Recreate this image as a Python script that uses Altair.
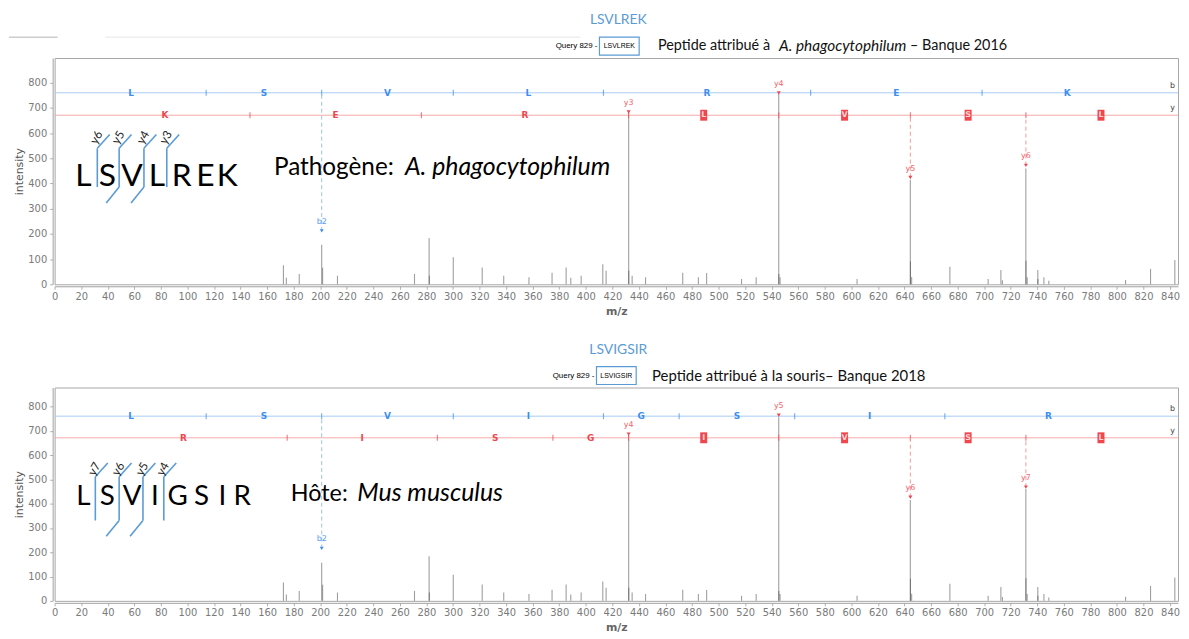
import altair as alt
import pandas as pd

# ---------------- data ----------------
peak_mz = [172.3, 174.5, 184.2, 201.1, 201.8, 213.0, 271.0, 282.0, 282.2, 300.2,
           322.0, 338.2, 357.2, 374.6, 385.2, 388.7, 396.5, 412.8, 415.3,
           432.3, 432.4, 434.9, 445.0, 473.0, 484.8, 491.0, 517.3, 528.3,
           545.3, 545.4, 546.3, 604.3, 644.4, 644.5, 645.4, 674.2, 703.0,
           712.6, 713.8, 731.4, 731.5, 732.4, 740.4, 740.5, 745.0, 748.7,
           806.5, 825.3, 843.6]
peak_int = [76, 26, 41, 157, 66, 34, 41, 184, 34, 107,
            67, 34, 28, 46, 67, 26, 34, 80, 54,
            681, 54, 34, 28, 46, 28, 45, 21, 28,
            756, 41, 28, 21, 415, 91, 29, 70, 21,
            57, 16, 460, 93, 28, 57, 21, 28, 14,
            17, 61, 96]

# top : LSVLREK
top_b_mz = [1.01, 114.09, 201.12, 300.19, 413.27, 569.37, 698.42, 826.51]
top_b_letters = ["L", "S", "V", "L", "R", "E", "K"]
top_y_mz = [19.02, 147.11, 276.16, 432.26, 545.34, 644.41, 731.44, 844.52]
top_y_letters = ["K", "E", "R", "L", "V", "S", "L"]
top_y_matched = [False, False, False, True, True, True, True]
top_ann_mz = [201.12, 432.26, 545.34, 644.41, 731.44]
top_ann_int = [212, 684, 759, 424, 472]
top_ann_label = ["b2", "y3", "y4", "y5", "y6"]
top_ann_series = ["b", "y", "y", "y", "y"]
top_ann_dashed = [True, False, False, True, True]

# bottom : LSVIGSIR
bot_b_mz = [1.01, 114.09, 201.12, 300.19, 413.27, 470.29, 557.32, 670.41, 826.51]
bot_b_letters = ["L", "S", "V", "I", "G", "S", "I", "R"]
bot_y_mz = [19.02, 175.12, 288.20, 375.24, 432.26, 545.34, 644.41, 731.44, 844.52]
bot_y_letters = ["R", "I", "S", "G", "I", "V", "S", "L"]
bot_y_matched = [False, False, False, False, True, True, True, True]
bot_ann_mz = [201.12, 432.26, 545.34, 644.41, 731.44]
bot_ann_int = [216, 686, 764, 426, 468]
bot_ann_label = ["b2", "y4", "y5", "y6", "y7"]
bot_ann_series = ["b", "y", "y", "y", "y"]
bot_ann_dashed = [True, False, False, True, True]

top_cut_labels = ["y6", "y5", "y4", "y3"]
bot_cut_labels = ["y7", "y6", "y5", "y4"]
x_ticks = list(range(0, 841, 20))
y_ticks = list(range(0, 801, 100))

# ---------------- layout / style ----------------
W = 1132
XMAX = 846
B_LEVEL = 760
Y_LEVEL = 671
B_TXT, B_LINE = "#3d8ef0", "#a9ccf5"
Y_TXT, Y_LINE = "#f0474f", "#f6a9a9"
BRACKET = "#5b9bd5"
ONE = pd.DataFrame({"k": [0]})


def x_axis():
    return alt.Axis(values=x_ticks, tickCount=43, title="m/z", grid=False,
                    labelFont="DejaVu Sans", labelFontSize=10, labelColor="#7a7a7a",
                    tickColor="#b0b0b0", tickSize=3, domainColor="#a0a0a0", offset=2,
                    labelPadding=2, titlePadding=4, titleFont="DejaVu Sans",
                    titleFontSize=11, titleFontWeight="bold", titleColor="#666666",
                    labelOverlap=False, labelFlush=False)


def y_axis():
    return alt.Axis(values=y_ticks, tickCount=9, title="intensity", grid=False,
                    labelFont="DejaVu Sans", labelFontSize=10, labelColor="#7a7a7a",
                    tickColor="#b0b0b0", tickSize=3, domainColor="#a0a0a0", offset=2,
                    labelPadding=3, titlePadding=3, titleFont="DejaVu Sans",
                    titleFontSize=11, titleFontWeight="normal", titleColor="#555555",
                    labelOverlap=False)


def text_at(px, py, txt, **kw):
    return alt.Chart(ONE).mark_text(text=txt, **kw).encode(x=alt.value(px), y=alt.value(py))


def panel(H, YMAX, title, query, header_parts, b_mz, b_letters, y_mz, y_letters,
          y_matched, ann_mz, ann_int, ann_label, ann_series, ann_dashed,
          big_letters, big_centers, big_base, big_size, cut_labels, cut_x, cut_top,
          cut_bot, cut_down, cut_label_y, species_parts, species_base, left_line):
    def mz(px):
        return px * XMAX / W

    def it(py):
        return (H - py) * YMAX / H

    xs = alt.Scale(domain=[0, XMAX], nice=False, zero=False)
    ys = alt.Scale(domain=[0, YMAX], nice=False, zero=True)

    def X(f="mz"):
        return alt.X(f + ":Q", scale=xs, axis=x_axis(), title="m/z")

    def Y(f="intensity"):
        return alt.Y(f + ":Q", scale=ys, axis=y_axis(), title="intensity")

    pk = pd.DataFrame({"mz": peak_mz, "intensity": peak_int})
    pk["base"] = 0
    peaks = alt.Chart(pk).mark_rule(color="#404040", opacity=0.5, strokeWidth=1.1).encode(
        x=X(), y=Y(), y2="base:Q")

    layers = [peaks]

    # ladder lines
    for lvl, col in ((B_LEVEL, B_LINE), (Y_LEVEL, Y_LINE)):
        layers.append(alt.Chart(pd.DataFrame({"intensity": [lvl]})).mark_rule(
            color=col, strokeWidth=1).encode(y=Y()))

    # ticks on ladders
    for masses, lvl, col in ((b_mz, B_LEVEL, B_TXT), (y_mz, Y_LEVEL, Y_TXT)):
        inner = masses[1:-1]
        df = pd.DataFrame({"mz": inner, "intensity": [lvl] * len(inner)})
        layers.append(alt.Chart(df).mark_tick(orient="vertical", size=6, thickness=1,
                                              color=col, opacity=0.8).encode(x=X(), y=Y()))

    # ladder letters
    b_mid = [(b_mz[i] + b_mz[i + 1]) / 2 for i in range(len(b_letters))]
    bdf = pd.DataFrame({"mz": b_mid, "intensity": [B_LEVEL] * len(b_mid), "t": b_letters})
    layers.append(alt.Chart(bdf).mark_text(color=B_TXT, font="DejaVu Sans", fontSize=9,
                                           fontWeight="bold").encode(x=X(), y=Y(), text="t:N"))
    y_mid = [(y_mz[i] + y_mz[i + 1]) / 2 for i in range(len(y_letters))]
    ydf = pd.DataFrame({"mz": y_mid, "intensity": [Y_LEVEL] * len(y_mid), "t": y_letters,
                        "m": y_matched})
    layers.append(alt.Chart(ydf[~ydf["m"]]).mark_text(
        color=Y_TXT, font="DejaVu Sans", fontSize=9, fontWeight="bold").encode(
        x=X(), y=Y(), text="t:N"))
    layers.append(alt.Chart(ydf[ydf["m"]]).mark_point(
        shape="M-0.64,-1H0.64V1H-0.64Z", size=121, filled=True, color=Y_TXT,
        opacity=1).encode(x=X(), y=Y()))
    layers.append(alt.Chart(ydf[ydf["m"]]).mark_text(
        color="#ffd6d6", font="DejaVu Sans", fontSize=8, fontWeight="bold").encode(
        x=X(), y=Y(), text="t:N"))

    # side labels b / y
    sdf = pd.DataFrame({"mz": [XMAX, XMAX], "intensity": [B_LEVEL, Y_LEVEL], "t": ["b", "y"]})
    layers.append(alt.Chart(sdf).mark_text(align="right", dx=-3, dy=-7, fontSize=8,
                                           font="DejaVu Sans", color="#444").encode(
        x=X(), y=Y(), text="t:N"))

    # annotations
    adf = pd.DataFrame({"mz": ann_mz, "intensity": ann_int, "t": ann_label,
                        "s": ann_series, "d": ann_dashed})
    adf["col"] = [B_TXT if s == "b" else Y_TXT for s in ann_series]
    adf["lcol"] = ["#9cc3f2" if s == "b" else "#f39a9a" for s in ann_series]
    adf["top"] = [B_LEVEL if s == "b" else Y_LEVEL for s in ann_series]
    layers.append(alt.Chart(adf[adf["d"]]).mark_rule(strokeDash=[4, 3], strokeWidth=1).encode(
        x=X(), y=Y(), y2="top:Q", color=alt.Color("lcol:N", scale=None)))
    layers.append(alt.Chart(adf).mark_point(shape="triangle-down", filled=True, size=16,
                                            opacity=1).encode(
        x=X(), y=Y(), color=alt.Color("col:N", scale=None)))
    layers.append(alt.Chart(adf).mark_text(dy=-9, fontSize=8, font="DejaVu Sans",
                                           opacity=0.85).encode(
        x=X(), y=Y(), text="t:N", color=alt.Color("col:N", scale=None)))

    # big sequence letters
    gdf = pd.DataFrame({"mz": [mz(c) for c in big_centers],
                        "intensity": [it(big_base)] * len(big_centers), "t": big_letters})
    layers.append(alt.Chart(gdf).mark_text(font="Lato", fontSize=big_size, color="black",
                                           baseline="alphabetic").encode(
        x=X(), y=Y(), text="t:N"))

    # fragmentation brackets
    segs = []
    for i, cx in enumerate(cut_x):
        segs.append((cx, cut_top, cx, cut_bot))
        segs.append((cx, cut_top, cx + 12.5, cut_top - 14))
        if cut_down[i]:
            segs.append((cx, cut_bot, cx - 13, cut_bot + 16))
    rdf = pd.DataFrame({"mz": [mz(s[0]) for s in segs], "intensity": [it(s[1]) for s in segs],
                        "mz2": [mz(s[2]) for s in segs], "intensity2": [it(s[3]) for s in segs]})
    layers.append(alt.Chart(rdf).mark_rule(color=BRACKET, strokeWidth=1.6).encode(
        x=X(), y=Y(), x2="mz2:Q", y2="intensity2:Q"))
    ldf = pd.DataFrame({"mz": [mz(cx - 1) for cx in cut_x],
                        "intensity": [it(cut_label_y)] * len(cut_x), "t": cut_labels})
    layers.append(alt.Chart(ldf).mark_text(angle=300, font="Lato", fontSize=12,
                                           color="#222").encode(
        x=X(), y=Y(), text="t:N"))

    # species text
    for px, txt, style, fs in species_parts:
        layers.append(alt.Chart(ONE).mark_text(
            text=txt, align="left", baseline="alphabetic", font="Lato", fontSize=fs,
            fontStyle=style, color="black").encode(x=alt.value(px), y=alt.value(species_base)))

    # header: title, query box, description
    layers.append(text_at(W / 2 + 2, -38, title, font="Lato", fontSize=14, color="#5b9bd5"))
    qx = header_parts[0]
    layers.append(text_at(qx - 2, -12, "Query 829 -", align="right", font="Liberation Sans",
                          fontSize=8, color="#000"))
    layers.append(alt.Chart(ONE).mark_rect(fill="white", stroke=BRACKET, strokeWidth=1.2).encode(
        x=alt.value(qx), x2=alt.value(qx + 40), y=alt.value(-21), y2=alt.value(-3)))
    layers.append(text_at(qx + 20, -12, query, font="Liberation Sans", fontSize=7,
                          color="#000"))
    for px, txt, style, fs in header_parts[1]:
        layers.append(text_at(px, -12, txt, align="left", font="Lato", fontSize=fs,
                              fontStyle=style, color="#111"))
    if left_line:
        layers.append(alt.Chart(ONE).mark_rule(color="#b4b4b4", strokeWidth=1).encode(
            x=alt.value(-46), x2=alt.value(3), y=alt.value(-21)))
        layers.append(alt.Chart(ONE).mark_rule(color="#e6e6e6", strokeWidth=1).encode(
            x=alt.value(51), x2=alt.value(530), y=alt.value(-21)))

    return alt.layer(*layers).properties(width=W, height=H)


top = panel(
    H=228, YMAX=898, title="LSVLREK", query="LSVLREK",
    header_parts=(549, [(608, "Peptide attribué à", "normal", 14.5),
                        (730, "A. phagocytophilum", "italic", 15.5),
                        (862, "– Banque 2016", "normal", 14.5)]),
    b_mz=top_b_mz, b_letters=top_b_letters, y_mz=top_y_mz, y_letters=top_y_letters,
    y_matched=top_y_matched, ann_mz=top_ann_mz, ann_int=top_ann_int,
    ann_label=top_ann_label, ann_series=top_ann_series, ann_dashed=top_ann_dashed,
    big_letters=top_b_letters, big_centers=[29, 53, 78, 103, 128, 152, 174],
    big_base=129, big_size=32, cut_labels=top_cut_labels, cut_x=[43, 65, 90, 113],
    cut_top=91, cut_bot=130, cut_down=[False, True, True, False], cut_label_y=80,
    species_parts=[(221, "Pathogène:", "normal", 24.5),
                   (353, "A. phagocytophilum", "italic", 25)],
    species_base=118, left_line=True)

bottom = panel(
    H=215, YMAX=878, title="LSVIGSIR", query="LSVIGSIR",
    header_parts=(546, [(602, "Peptide attribué à la souris– Banque 2018", "normal", 15)]),
    b_mz=bot_b_mz, b_letters=bot_b_letters, y_mz=bot_y_mz, y_letters=bot_y_letters,
    y_matched=bot_y_matched, ann_mz=bot_ann_mz, ann_int=bot_ann_int,
    ann_label=bot_ann_label, ann_series=bot_ann_series, ann_dashed=bot_ann_dashed,
    big_letters=bot_b_letters, big_centers=[29, 53, 78, 101, 124, 148, 169, 189],
    big_base=118, big_size=28, cut_labels=bot_cut_labels, cut_x=[41, 65, 89, 110],
    cut_top=90, cut_bot=134, cut_down=[False, True, True, False], cut_label_y=82,
    species_parts=[(238, "Hôte:", "normal", 23.5), (305, "Mus musculus", "italic", 25)],
    species_base=114, left_line=False)

chart = alt.vconcat(top, bottom, spacing=25).properties(
    padding={"left": 0, "top": 2, "right": 0, "bottom": 0}
).configure_view(stroke="#a6a6a6", strokeWidth=1).configure_axis(labelOverlap=False)

chart.save("out.html", embed_options={"renderer": "svg", "actions": False})
